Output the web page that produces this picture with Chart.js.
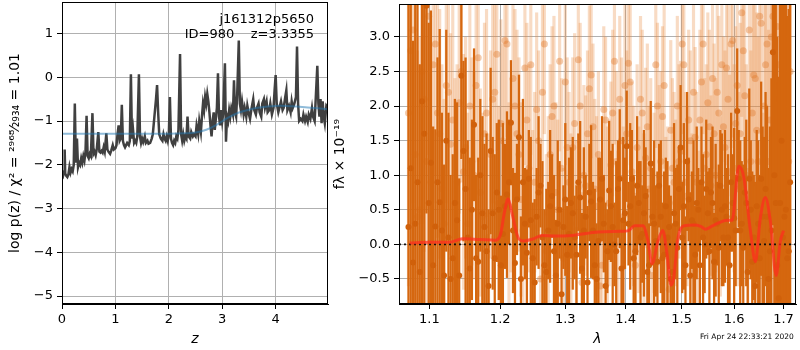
<!DOCTYPE html>
<html>
<head>
<meta charset="utf-8">
<script src="https://cdn.jsdelivr.net/npm/chart.js@4"></script>
<style>
  body { margin: 0; background: #fff; }
  #wrap { position: relative; width: 800px; height: 350px; font-family: "DejaVu Sans", sans-serif; }
  #left { position: absolute; left: 0; top: 0; }
  #right { position: absolute; left: 330px; top: 0; }
  .note { position: absolute; font-size: 13px; color: #000; white-space: pre; }
</style>
</head>
<body>
<div id="wrap">
  <canvas id="left" width="330" height="350"></canvas>
  <canvas id="right" width="470" height="350"></canvas>
  <div class="note" style="right:486px; top:11px;">j161312p5650</div>
  <div class="note" style="right:486px; top:26px;">ID=980    z=3.3355</div>
  <div class="note" style="left:700px; top:332px; font-size:7.5px;">Fri Apr 24 22:33:21 2020</div>
</div>
<script>
// left panel: p(z)
const zGrid = [0.00,0.02,0.04,0.05,0.06,0.08,0.10,0.12,0.14,0.16,0.18,0.20,0.22,0.24,0.26,0.28,0.30,0.32,0.34,0.36,0.38,0.40,0.42,0.44,0.46,0.48,0.50,0.52,0.54,0.57,0.59,0.61,0.63,0.65,0.68,0.70,0.72,0.74,0.76,0.78,0.80,0.83,0.85,0.87,0.90,0.92,0.95,0.97,1.00,1.02,1.04,1.06,1.08,1.10,1.12,1.14,1.16,1.18,1.20,1.22,1.25,1.27,1.29,1.31,1.33,1.35,1.37,1.39,1.41,1.44,1.46,1.48,1.50,1.52,1.55,1.57,1.60,1.62,1.65,1.68,1.70,1.73,1.76,1.78,1.80,1.82,1.85,1.88,1.90,1.92,1.94,1.96,1.98,2.00,2.02,2.04,2.06,2.08,2.10,2.12,2.14,2.16,2.18,2.21,2.23,2.25,2.27,2.29,2.31,2.33,2.35,2.37,2.40,2.42,2.45,2.47,2.50,2.52,2.55,2.57,2.60,2.62,2.64,2.66,2.68,2.70,2.72,2.74,2.76,2.78,2.80,2.82,2.84,2.86,2.88,2.90,2.92,2.94,2.96,2.98,3.00,3.02,3.05,3.07,3.09,3.11,3.13,3.15,3.17,3.20,3.22,3.24,3.26,3.28,3.31,3.33,3.35,3.37,3.40,3.42,3.45,3.47,3.50,3.52,3.55,3.58,3.60,3.63,3.65,3.68,3.70,3.73,3.75,3.78,3.80,3.83,3.85,3.88,3.90,3.93,3.96,3.98,4.00,4.02,4.05,4.08,4.10,4.13,4.15,4.18,4.20,4.22,4.25,4.28,4.30,4.32,4.35,4.38,4.40,4.42,4.44,4.47,4.50,4.52,4.55,4.57,4.60,4.62,4.65,4.68,4.70,4.73,4.75,4.78,4.80,4.82,4.84,4.86,4.88,4.90,4.92,4.95,4.98];
const logPz = [-2.20,-2.25,-2.15,-1.65,-2.20,-2.25,-2.28,-2.22,-2.05,-2.18,-2.10,-2.15,-2.00,-0.60,-1.95,-1.40,-2.05,-1.95,-2.00,-1.85,-1.95,-1.80,-1.90,-1.70,-0.88,-1.80,-1.85,-1.75,-1.80,-0.82,-1.75,-1.70,-1.78,-1.65,-1.25,-1.70,-1.72,-1.68,-1.72,-1.60,-1.70,-1.28,-1.65,-1.70,-1.75,-1.68,-1.55,-1.65,-1.62,-1.55,-1.30,-1.10,-1.45,-1.40,-0.63,-1.45,-1.55,-1.60,-1.55,-1.50,-1.55,-1.45,0.07,-1.40,-1.20,-1.50,-1.45,-1.50,-1.35,0.07,-1.35,-1.50,-1.40,-1.48,-1.35,-1.50,-1.45,-1.52,-1.50,-1.40,-1.30,-0.90,-0.50,-0.18,-0.80,-1.30,-1.40,-1.45,-1.30,-1.40,-1.45,-1.35,-1.45,-1.30,-0.45,-1.40,-1.50,-1.55,-1.45,-1.50,-1.35,-1.40,-1.20,0.53,-1.30,-1.45,-1.30,-1.45,-1.35,-1.40,-0.90,-1.35,-1.40,-1.25,-1.35,-1.30,-1.35,-1.10,-1.30,-1.00,-1.25,-0.90,-0.60,-0.75,-0.45,-0.60,-0.38,-0.55,-0.80,-1.10,-1.35,-1.00,-0.80,-1.20,-0.95,-0.70,0.09,-0.90,-1.10,-0.75,-1.00,-0.80,0.32,-1.47,-0.90,-1.00,-0.75,-0.90,-0.70,-0.85,-0.07,-0.80,-0.90,-0.40,0.84,-0.60,-0.75,-0.55,-0.85,-0.70,-0.90,-0.65,-0.85,-0.95,-0.70,-0.50,-0.75,-0.85,-0.70,-0.60,-0.80,-0.90,-0.60,-0.50,-0.70,-0.55,-0.80,-0.75,-0.60,-0.85,-0.70,-0.30,0.05,-0.60,-0.80,-0.65,-0.55,-0.75,-0.70,-0.45,-0.30,-0.75,-0.65,-0.80,-0.55,-0.70,-0.60,-0.45,0.70,-0.60,-1.00,-0.95,-1.00,-0.85,-1.00,-0.90,-1.02,-0.85,-0.95,-0.70,-0.90,-1.00,-0.50,0.26,-0.60,-0.90,-0.50,-1.05,-0.55,-0.90,-1.05,-0.65,-0.70];
const zPrior = [0, 0.5, 1.0, 1.5, 2.0, 2.3, 2.5, 2.7, 2.9, 3.1, 3.3, 3.5, 3.7, 4.0, 4.3, 4.6, 4.98];
const logPrior = [-1.29, -1.29, -1.29, -1.29, -1.29, -1.28, -1.26, -1.20, -1.08, -0.93, -0.81, -0.74, -0.69, -0.655, -0.66, -0.69, -0.73];
const zTicks = [0, 1, 2, 3, 4];
const pzTicks = [-5, -4, -3, -2, -1, 0, 1];

// right panel: spectrum, two interleaved wavelength grids
const lamA = [1.072,1.078,1.084,1.090,1.096,1.102,1.108,1.114,1.120,1.126,1.132,1.138,1.144,1.150,1.156,1.162,1.168,1.174,1.180,1.186,1.192,1.198,1.204,1.210,1.216,1.222,1.228,1.234,1.240,1.246,1.252,1.258,1.264,1.270,1.276,1.282,1.288,1.294,1.300,1.306,1.312,1.318,1.324,1.330,1.336,1.342,1.348,1.354,1.360,1.366,1.372,1.378,1.384,1.390,1.396,1.402,1.408,1.414,1.420,1.426,1.432,1.438,1.444,1.450,1.456,1.462,1.468,1.474,1.480,1.486,1.492,1.498,1.504,1.510,1.516,1.522,1.528,1.534,1.540,1.546,1.552,1.558,1.564,1.570,1.576,1.582,1.588,1.594,1.600,1.606,1.612,1.618,1.624,1.630,1.636,1.642,1.648,1.654,1.660,1.666,1.672,1.678,1.684,1.690,1.696,1.702,1.708,1.714];
const lamB = [1.075,1.081,1.087,1.093,1.099,1.105,1.111,1.117,1.123,1.129,1.135,1.141,1.147,1.153,1.159,1.165,1.171,1.177,1.183,1.189,1.195,1.201,1.207,1.213,1.219,1.225,1.231,1.237,1.243,1.249,1.255,1.261,1.267,1.273,1.279,1.285,1.291,1.297,1.303,1.309,1.315,1.321,1.327,1.333,1.339,1.345,1.351,1.357,1.363,1.369,1.375,1.381,1.387,1.393,1.399,1.405,1.411,1.417,1.423,1.429,1.435,1.441,1.447,1.453,1.459,1.465,1.471,1.477,1.483,1.489,1.495,1.501,1.507,1.513,1.519,1.525,1.531,1.537,1.543,1.549,1.555,1.561,1.567,1.573,1.579,1.585,1.591,1.597,1.603,1.609,1.615,1.621,1.627,1.633,1.639,1.645,1.651,1.657,1.663,1.669,1.675,1.681,1.687,1.693,1.699,1.705,1.711];

// dark (strong) points on grid A and B
const fluxDarkA = [0.25,-0.26,0.9,2.07,3.45, 1.18,0.26,0.61,-0.45,0.1, -0.2,0.35,2.44,0.8,-0.35, 1.73,-0.25,0.45,-0.1,1.35, -0.2,0.5,0.15,0.72,1.76, -0.27,1.55,0.9,-0.12,0.35, -0.55,0.75,0.1,-0.4,0.55, -0.1,0.3,-0.72,0.65,0.15, 0.45,-0.15,0.68,0.2,-0.55, 0.62,-0.3,0.05,0.95,-0.6, 0.78,0.25,-0.1,0.95,0.35, 1.42,0.55,-0.2,0.85,0.1, 0.45,-0.4,1.17,0.3,-0.25, 0.4,-0.15,0.1,-0.5,0.45, -0.05,1.4,0.55,1.2,-0.45, 0.3,0.6,-0.3,0.1,0.8, -0.1,0.6,0.35,-0.05,0.5, 0.55,0.1,0.9,0.38,1.93, 0.2,-0.05,0.6,0.95,-0.25, -0.6,0.3,0.95,0.05,0.4, -0.1,2.78,0.6,-0.78,1.5, 0.4,-0.2,0.9];
const errDarkA = [3.5,3.2,3.0,3.0,3.0, 2.2,1.4,2.5,1.6,1.8, 1.5,1.7,1.2,1.9,1.6, 1.1,1.5,1.4,1.7,1.2, 1.5,1.3,1.6,1.2,0.9, 1.3,0.9,1.2,1.2,1.2, 1.2,1.1,1.1,1.2,1.1, 1.1,1.2,1.2,1.1,1.1, 1.1,1.0,1.1,1.2,1.1, 1.1,1.1,1.2,0.9,1.2, 1.0,1.2,1.3,1.0,1.2, 0.8,1.2,1.2,1.0,1.1, 1.2,1.2,0.9,1.2,1.3, 1.1,1.2,1.1,1.2,1.3, 1.2,0.9,1.2,1.0,1.2, 1.2,1.1,1.2,1.2,1.0, 1.2,1.1,1.1,1.2,1.1, 1.1,1.2,1.0,1.3,0.9, 1.3,1.2,1.2,1.3,1.3, 1.5,1.2,1.4,1.5,1.6, 1.8,2.5,3.0,3.2,3.5, 3.5,3.5,3.5];
const fluxDarkB = [1.1,0.3,-0.4,1.6,0.6, -0.3,0.9,0.2,1.5,-0.5, 0.6,-0.45,1.35,0.1,0.5, -0.2,1.0,0.25,-0.6,0.45, 0.75,-0.3,0.55,0.9,0.2, 0.65,-0.5,0.3,0.95,-0.2, 0.4,0.85,-0.3,0.2,0.7, -0.45,0.5,0.25,-0.15,0.6, 0.1,0.9,-0.35,0.4,0.75, 0.2,-0.5,0.65,0.3,-0.1, 0.55,0.0,0.8,-0.35,0.45, 0.3,0.95,-0.1,0.6,0.15, 0.7,-0.3,0.4,0.05,0.85, -0.2,0.55,0.25,-0.4,0.3, 0.8,0.1,-0.3,0.65,0.35, -0.15,0.5,0.9,0.0,0.45, 0.75,-0.25,0.3,0.85,0.1, 0.4,-0.3,0.6,0.2,0.95, 0.3,0.75,-0.4,0.5,0.1, 0.55,-0.2,0.4,0.8,-0.5, 0.2,1.0,-0.3,0.6,0.1, 0.5,-0.1];
const errDarkB = [3.5,3.3,3.0,2.8,2.6, 2.0,1.8,1.7,1.6,1.5, 1.5,1.4,1.3,1.4,1.3, 1.2,1.1,1.2,1.1,1.1, 1.0,1.0,0.9,0.9,0.9, 0.8,0.9,0.8,0.7,0.8, 0.7,0.6,0.8,0.7,0.6, 0.8,0.7,0.6,0.7,0.8, 0.6,0.7,0.8,0.6,0.7, 0.7,0.8,0.6,0.7,0.6, 0.8,0.6,0.7,0.7,0.8, 0.6,0.7,0.8,0.6,0.7, 0.7,0.6,0.7,0.8,0.6, 0.8,0.7,0.6,0.7,0.8, 0.6,0.8,0.7,0.6,0.7, 0.7,0.6,0.8,0.7,0.6, 0.8,0.7,0.6,0.8,0.7, 0.7,0.6,0.7,0.8,0.7, 0.9,0.8,0.9,1.0,0.9, 1.1,1.2,1.3,1.4,1.6, 2.2,2.8,3.3,3.5,3.5, 3.5,3.5];

// light (faint) points on grid B and A
const fluxLightB = [2.8,1.3,0.5,2.1,3.3, 2.6,1.9,0.8,2.3,1.45, 0.6,2.05,1.05,0.3,1.2, 2.3,0.75,1.6,0.1,2.1, 2.75,1.75,2.95,0.55,2.4, 1.6,0.65,2.55,1.1,0.25, 1.95,-0.5,2.9,0.45,1.85, 0.75,2.65,-0.2,1.4,0.3, 1.75,2.67,-0.55,0.85,2.25, 1.7,0.55,-0.6,1.95,0.4, 1.15,2.65,0.05,1.5,2.3, 2.62,1.05,-0.3,0.5,1.9, 1.25,0.8,-0.45,2.6,1.0, 1.85,0.35,-0.65,1.1,0.6, 1.2,2.9,0.9,1.8,0.3, 1.55,0.05,2.35,1.1,2.05, 0.85,1.6,2.2,0.55,1.7, 2.55,1.05,2.95,1.75,0.8, 3.35,2.15,-0.4,1.2,2.45, 1.65,3.3,0.2,2.6,1.2, 3.0,2.1,3.15,1.5,2.9, 2.4,1.2];
const errLightB = [2.5,2.5,2.5,2.2,2.0, 2.0,1.8,1.8,1.7,1.6, 1.8,1.6,1.7,1.6,1.5, 1.5,1.5,1.6,1.5,1.5, 1.4,1.5,1.4,1.5,1.4, 1.5,1.4,1.4,1.5,1.4, 1.4,1.4,1.3,1.4,1.3, 1.3,1.3,1.3,1.3,1.3, 1.3,1.2,1.3,1.3,1.2, 1.2,1.3,1.3,1.2,1.3, 1.2,1.2,1.3,1.2,1.2, 1.2,1.3,1.2,1.2,1.2, 1.3,1.2,1.2,1.2,1.3, 1.3,1.2,1.3,1.3,1.2, 1.4,1.3,1.3,1.3,1.3, 1.3,1.3,1.3,1.3,1.3, 1.3,1.3,1.3,1.3,1.3, 1.4,1.4,1.4,1.4,1.4, 1.5,1.5,1.5,1.6,1.6, 1.7,1.7,1.7,1.8,1.9, 2.0,2.2,2.3,2.5,2.5, 2.5,2.5];
const fluxLightA = [1.9,3.1,0.4,2.5,1.2, 0.9,2.9,1.6,0.3,2.2, 1.8,0.9,2.5,1.4,2.0, 1.0,2.7,0.4,1.9,1.3, 2.2,0.6,1.5,2.9,1.0, 2.0,1.3,0.2,1.8,2.6, 0.9,1.5,2.2,-0.1,1.3, 2.0,0.5,1.1,2.35,0.9, 1.4,0.2,2.0,1.0,1.6, 2.45,0.8,1.3,-0.3,1.8, 0.6,1.9,1.2,2.1,0.4, 1.6,2.35,0.7,1.4,2.1, 0.3,1.7,1.1,0.6,2.0, 1.2,2.3,0.4,1.65,0.9, 2.0,1.35,2.6,0.7,1.5, 2.2,0.9,1.8,2.9,1.3, 1.7,2.4,1.0,1.9,2.6, 1.4,2.1,2.9,1.1,2.3, 1.6,2.8,1.0,3.1,1.9, 2.4,1.2,3.2,2.0,2.9, 1.8,3.3,2.3,2.6,1.4, 2.9,1.8,2.5];
const errLightA = [2.5,2.5,2.4,2.2,2.2, 2.0,1.9,1.8,1.8,1.7, 1.7,1.7,1.6,1.6,1.5, 1.5,1.5,1.5,1.5,1.5, 1.4,1.4,1.4,1.4,1.4, 1.4,1.4,1.3,1.4,1.3, 1.3,1.3,1.3,1.4,1.3, 1.3,1.3,1.3,1.2,1.3, 1.3,1.3,1.2,1.3,1.2, 1.2,1.3,1.2,1.3,1.2, 1.2,1.2,1.3,1.2,1.3, 1.2,1.2,1.3,1.2,1.2, 1.3,1.2,1.3,1.3,1.2, 1.3,1.2,1.3,1.3,1.3, 1.3,1.3,1.3,1.3,1.3, 1.3,1.3,1.3,1.3,1.3, 1.4,1.3,1.4,1.4,1.4, 1.4,1.4,1.5,1.5,1.5, 1.6,1.6,1.6,1.6,1.7, 1.8,1.8,1.9,1.9,2.0, 2.1,2.2,2.4,2.5,2.5, 2.5,2.5,2.5];

// best-fit model
const lamModel = [1.0735,1.100,1.127,1.1456,1.170,1.1933,1.2006,1.206,1.2118,1.2177,1.2277,1.2352,1.250,1.2631,1.2850,1.3102,1.3537,1.3927,1.405,1.4157,1.4301,1.4389,1.4464,1.4566,1.4655,1.4731,1.4803,1.4852,1.4925,1.5048,1.5232,1.5355,1.5449,1.5608,1.5864,1.5961,1.6092,1.6191,1.6322,1.6423,1.6523,1.6625,1.6727,1.6849,1.6932,1.7002];
const fluxModel = [0.02,0.03,0.03,0.08,0.07,0.06,0.15,0.45,0.66,0.44,0.08,0.05,0.08,0.13,0.12,0.13,0.18,0.19,0.20,0.27,0.27,0.06,-0.28,0.04,0.20,-0.13,-0.59,-0.50,0.06,0.27,0.28,0.26,0.22,0.28,0.35,0.35,1.13,0.97,0.20,-0.25,0.38,0.68,0.34,-0.45,0.04,0.20];
const zeroLam = [1.0596, 1.7264];
const zeroFlux = [0, 0];
const lamTicks = [1.1, 1.2, 1.3, 1.4, 1.5, 1.6, 1.7];
const fluxTicks = [-0.5, 0.0, 0.5, 1.0, 1.5, 2.0, 2.5, 3.0];

const FONT = "DejaVu Sans";
const tickFont = { family: FONT, size: 13 };
const titleFont = { family: FONT, size: 14 };
const gridOpts = { color: '#b0b0b0', lineWidth: 1, tickColor: '#000', tickLength: 5 };
const minus = (s) => String(s).replace('-', '\u2212');

// black frame around the plot area, like matplotlib spines
const framePlugin = {
    id: 'frame',
    afterDraw(chart) {
        const a = chart.chartArea;
        const ctx = chart.ctx;
        ctx.save();
        ctx.strokeStyle = '#000';
        ctx.lineWidth = 1;
        ctx.strokeRect(a.left + 0.5, a.top + 0.5, a.right - a.left - 1, a.bottom - a.top - 1);
        ctx.restore();
    }
};

const pts = (xs, ys) => xs.map((x, i) => ({ x: x, y: ys[i] }));
// no extra room for half tick labels, the plot box is pinned
const fitY = (w) => (s) => { s.width = w; s.paddingTop = 0; s.paddingBottom = 0; };
const fitX = (h) => (s) => { s.height = h; s.paddingLeft = 0; s.paddingRight = 0; };

new Chart(document.getElementById('left'), {
    type: 'scatter',
    data: {
        datasets: [{
            type: 'line',
            data: pts(zPrior, logPrior),
            borderColor: 'rgba(31,119,180,0.5)',
            borderWidth: 2,
            pointRadius: 0,
            tension: 0.4,
            clip: 0,
            order: 0
        }, {
            type: 'line',
            data: pts(zGrid, logPz),
            borderColor: '#404040',
            borderWidth: 2.5,
            pointRadius: 0,
            tension: 0,
            clip: 0,
            order: 1
        }]
    },
    options: {
        responsive: false,
        animation: false,
        events: [],
        layout: { padding: { top: 2, right: 2, left: 0, bottom: 0 } },
        plugins: { legend: { display: false }, tooltip: { enabled: false } },
        scales: {
            x: {
                type: 'linear',
                min: 0, max: 4.98,
                afterBuildTicks: (s) => { s.ticks = zTicks.map(v => ({ value: v })); },
                afterFit: fitX(46),
                grid: gridOpts,
                border: { color: '#000' },
                ticks: { font: tickFont, color: '#000', padding: 3, maxRotation: 0, callback: (v) => minus(v) },
                title: { display: true, text: 'z', font: { family: FONT, size: 14, style: 'italic' }, color: '#000', padding: { top: 0, bottom: 2 } }
            },
            y: {
                type: 'linear',
                min: -5.18, max: 1.72,
                afterBuildTicks: (s) => { s.ticks = pzTicks.map(v => ({ value: v })); },
                afterFit: fitY(62),
                grid: gridOpts,
                border: { color: '#000' },
                ticks: { font: tickFont, color: '#000', padding: 4, callback: (v) => minus(v) },
                title: { display: true, text: 'log p(z) / \u03c7\u00b2 = \u00b2\u2079\u2076\u2078\u2044\u2082\u2089\u2083\u2084 = 1.01', font: titleFont, color: '#000', padding: { top: 7, bottom: 0 } }
            }
        }
    },
    plugins: [framePlugin]
});

const darkBar = '#d5670f';
const darkPt = '#d0600a';
const lightBar = 'rgba(233,135,60,0.3)';
const lightPt = 'rgba(225,122,45,0.4)';

function errBars(lam, flux, err, color, width, order) {
    return {
        type: 'bar',
        data: lam.map((l, i) => ({ x: l, y: [flux[i] - err[i], flux[i] + err[i]] })),
        backgroundColor: color,
        barThickness: width,
        grouped: false,
        clip: 0,
        order: order
    };
}
function dots(lam, flux, color, r, order) {
    return { data: pts(lam, flux), backgroundColor: color, borderWidth: 0, pointRadius: r, clip: 0, order: order };
}

new Chart(document.getElementById('right'), {
    type: 'scatter',
    data: {
        datasets: [{
            type: 'line',
            data: pts(lamModel, fluxModel),
            borderColor: 'rgba(255,45,30,0.72)',
            borderWidth: 3,
            pointRadius: 0,
            cubicInterpolationMode: 'monotone',
            clip: 0,
            order: 0
        }, {
            type: 'line',
            data: pts(zeroLam, zeroFlux),
            borderColor: '#111',
            borderWidth: 1.8,
            borderDash: [2, 3],
            pointRadius: 0,
            clip: 0,
            order: 1
        },
        dots(lamA, fluxDarkA, darkPt, 3, 2),
        dots(lamB, fluxDarkB, darkPt, 3, 2),
        errBars(lamA, fluxDarkA, errDarkA, darkBar, 1.6, 3),
        errBars(lamB, fluxDarkB, errDarkB, darkBar, 1.6, 3),
        dots(lamB, fluxLightB, lightPt, 3.5, 4),
        dots(lamA, fluxLightA, lightPt, 3.5, 4),
        errBars(lamB, fluxLightB, errLightB, lightBar, 2.5, 5),
        errBars(lamA, fluxLightA, errLightA, lightBar, 2.5, 5)
        ]
    },
    options: {
        responsive: false,
        animation: false,
        events: [],
        layout: { padding: { top: 2, right: 1, left: 0, bottom: 0 } },
        plugins: { legend: { display: false }, tooltip: { enabled: false } },
        scales: {
            x: {
                type: 'logarithmic',
                min: 1.0596, max: 1.7264,
                offset: false,
                afterBuildTicks: (s) => { s.ticks = lamTicks.map(v => ({ value: v })); },
                afterFit: fitX(46),
                grid: Object.assign({ offset: false }, gridOpts),
                border: { color: '#000' },
                ticks: { font: tickFont, color: '#000', padding: 3, maxRotation: 0, autoSkip: false, callback: (v) => Number(v).toFixed(1) },
                title: { display: true, text: '\u03bb', font: { family: FONT, size: 14, style: 'italic' }, color: '#000', padding: { top: 0, bottom: 2 } }
            },
            y: {
                type: 'linear',
                min: -0.862, max: 3.477,
                afterBuildTicks: (s) => { s.ticks = fluxTicks.map(v => ({ value: v })); },
                afterFit: fitY(69),
                grid: gridOpts,
                border: { color: '#000' },
                ticks: { font: tickFont, color: '#000', padding: 4, callback: (v) => minus(Number(v).toFixed(1)) },
                title: { display: true, text: 'f\u03bb \u00d7 10\u207b\u00b9\u2079', font: titleFont, color: '#000', padding: { top: 2, bottom: 0 } }
            }
        }
    },
    plugins: [framePlugin]
});
</script>
</body>
</html>
